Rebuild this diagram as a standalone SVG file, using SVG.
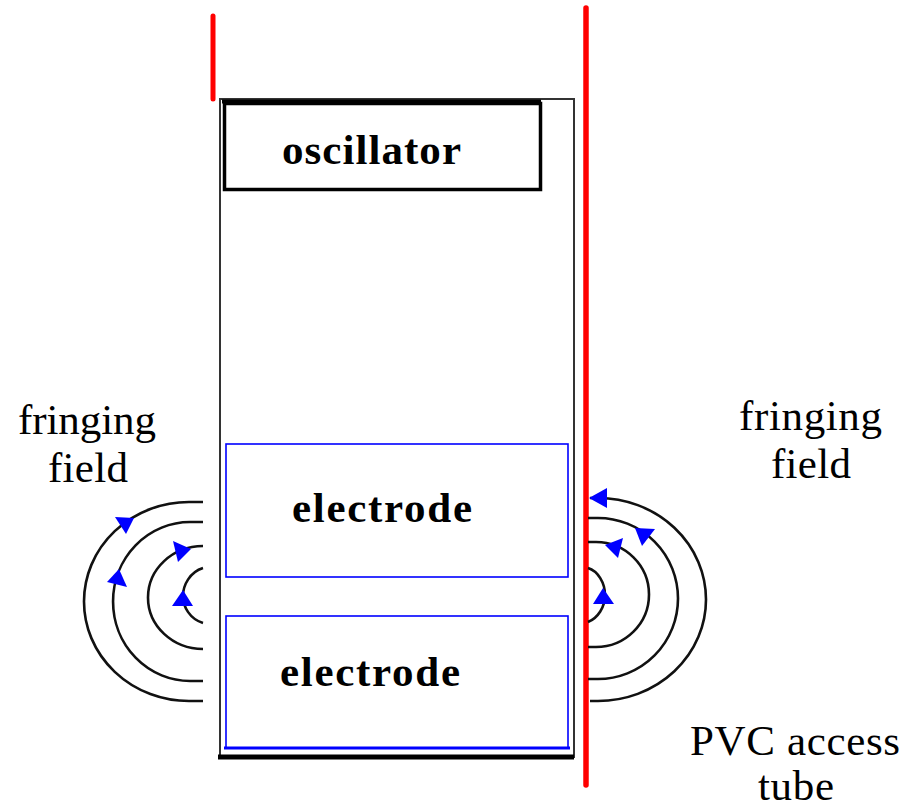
<svg xmlns="http://www.w3.org/2000/svg" width="908" height="808" viewBox="0 0 908 808">
<style>
text{font-family:"Liberation Serif","Times New Roman",serif;fill:#000}
.b{font-weight:bold;font-size:43px}
.r{font-size:43px}
.arc{fill:none;stroke:#111;stroke-width:2.600}
.tri{fill:#0000ff;stroke:none}
.blue{fill:none;stroke:#0000ff;stroke-width:1.600}
.red{stroke:#ff0000;fill:none;stroke-linecap:round}
</style>
<rect width="908" height="808" fill="#fff"/>
<g id="tube">
<line class="red" x1="213" y1="16" x2="213" y2="99" stroke-width="5"/>
<line class="red" x1="586" y1="8" x2="586" y2="785" stroke-width="5.500"/>
</g>
<g id="probe">
<rect x="220" y="99" width="354" height="658" fill="none" stroke="#333" stroke-width="2"/>
<line x1="218" y1="757" x2="574" y2="757" stroke="#000" stroke-width="5"/>
</g>
<g id="oscillator">
<rect x="224.500" y="103.500" width="316" height="86" fill="none" stroke="#000" stroke-width="3.500"/>
<line x1="222" y1="101.500" x2="541" y2="101.500" stroke="#000" stroke-width="4"/>
<text class="b" x="282" y="164" textLength="179" lengthAdjust="spacing">oscillator</text>
</g>
<g id="electrode1">
<rect class="blue" x="226" y="444" width="342" height="133"/>
<text class="b" x="292" y="522" textLength="180" lengthAdjust="spacing">electrode</text>
</g>
<g id="electrode2">
<rect class="blue" x="226" y="616" width="342" height="132"/>
<line x1="224" y1="748" x2="570" y2="748" stroke="#0000ff" stroke-width="3"/>
<text class="b" x="280" y="686" textLength="180" lengthAdjust="spacing">electrode</text>
</g>
<g id="label-left">
<text class="r" x="18" y="434" textLength="138" lengthAdjust="spacing">fringing</text>
<text class="r" x="48" y="482" textLength="80" lengthAdjust="spacing">field</text>
</g>
<g id="label-right">
<text class="r" x="739" y="430" textLength="143" lengthAdjust="spacing">fringing</text>
<text class="r" x="771" y="478" textLength="80" lengthAdjust="spacing">field</text>
</g>
<g id="label-pvc">
<text class="r" x="690" y="755" textLength="210" lengthAdjust="spacing">PVC access</text>
<text class="r" x="758" y="800" textLength="76" lengthAdjust="spacing">tube</text>
</g>
<g id="connectors">
<path class="arc" d="M203 502H189A105 99.500 0 0 0 189 701H203"/>
<path class="arc" d="M203 522H190A77 79.500 0 0 0 190 681H203"/>
<path class="arc" d="M203 546A55 51.500 0 0 0 203 649"/>
<path class="arc" d="M203 568C190 572 183 585 183 596C183 607 190 619 203 623"/>
<path class="arc" d="M590 498H598A108 101.500 0 0 1 598 701H590"/>
<path class="arc" d="M588 518H598A80 80.500 0 0 1 598 679H588"/>
<path class="arc" d="M588 542H596A53 52.500 0 0 1 596 647H588"/>
<path class="arc" d="M588 568C598 571 605 583 605 595C605 607 598 618 588 622"/>
<polygon class="tri" points="115,517 134,518 126,534"/>
<polygon class="tri" points="119,569 107,582 127,587"/>
<polygon class="tri" points="173,541 191,549 178,562"/>
<polygon class="tri" points="183,590 172,606 193,606"/>
<polygon class="tri" points="589,498 607,488 607,508"/>
<polygon class="tri" points="635,528 655,529 642,546"/>
<polygon class="tri" points="605,545 623,538 618,558"/>
<polygon class="tri" points="603,588 593,604 614,604"/>
</g>
</svg>
